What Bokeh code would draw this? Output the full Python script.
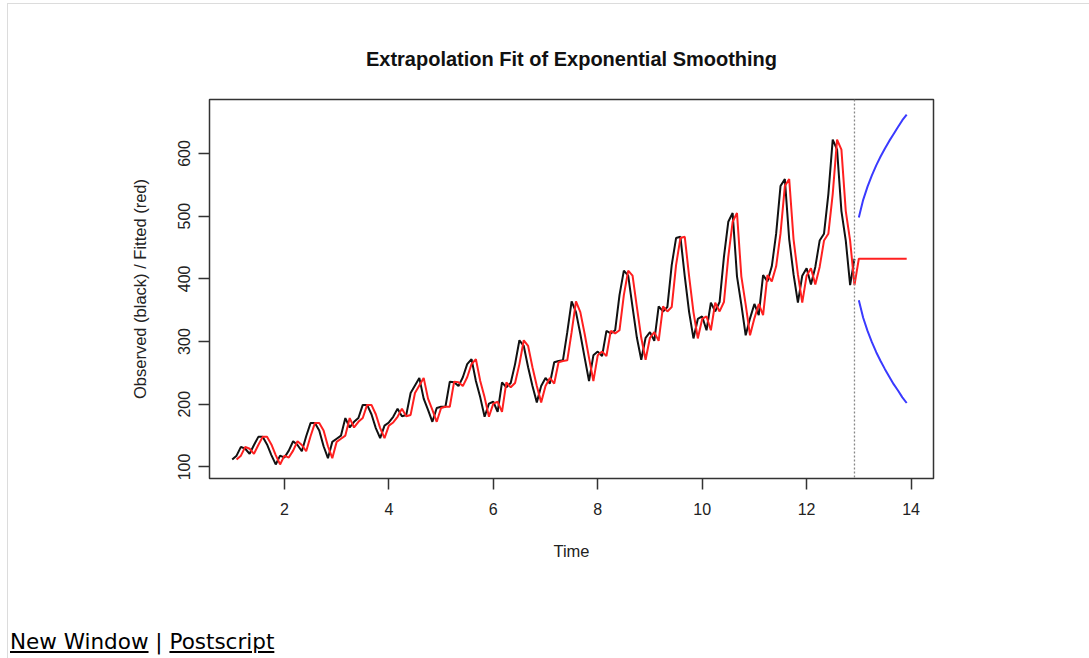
from bokeh.plotting import figure
from bokeh.models import Range1d, FixedTicker, Span, Div
from bokeh.layouts import column
from bokeh.embed import file_html
from bokeh.resources import INLINE

# ---- data (AirPassengers-like series) ----
start_time = 1
frequency = 12

observed = [
    112, 118, 132, 129, 121, 135, 148, 148, 136, 119, 104, 118,
    115, 126, 141, 135, 125, 149, 170, 170, 158, 133, 114, 140,
    145, 150, 178, 163, 172, 178, 199, 199, 184, 162, 146, 166,
    171, 180, 193, 181, 183, 218, 230, 242, 209, 191, 172, 194,
    196, 196, 236, 235, 229, 243, 264, 272, 237, 211, 180, 201,
    204, 188, 235, 227, 234, 264, 302, 293, 259, 229, 203, 229,
    242, 233, 267, 269, 270, 315, 364, 347, 312, 274, 237, 278,
    284, 277, 317, 313, 318, 374, 413, 405, 355, 306, 271, 306,
    315, 301, 356, 348, 355, 422, 465, 467, 404, 347, 305, 336,
    340, 318, 362, 348, 363, 435, 491, 505, 404, 359, 310, 337,
    360, 342, 406, 396, 420, 472, 548, 559, 463, 407, 362, 405,
    417, 391, 419, 461, 472, 535, 622, 606, 508, 461, 390, 432,
]

# fitted values (start one period after the observed series)
fitted = [
    112, 118, 132, 129, 121, 135, 148, 148, 136, 119, 104,
    118, 115, 126, 141, 135, 125, 149, 170, 170, 158, 133, 114,
    140, 145, 150, 178, 163, 172, 178, 199, 199, 184, 162, 146,
    166, 171, 180, 193, 181, 183, 218, 230, 242, 209, 191, 172,
    194, 196, 196, 236, 235, 229, 243, 264, 272, 237, 211, 180,
    201, 204, 188, 235, 227, 234, 264, 302, 293, 259, 229, 203,
    229, 242, 233, 267, 269, 270, 315, 364, 347, 312, 274, 237,
    278, 284, 277, 317, 313, 318, 374, 413, 405, 355, 306, 271,
    306, 315, 301, 356, 348, 355, 422, 465, 467, 404, 347, 305,
    336, 340, 318, 362, 348, 363, 435, 491, 505, 404, 359, 310,
    337, 360, 342, 406, 396, 420, 472, 548, 559, 463, 407, 362,
    405, 417, 391, 419, 461, 472, 535, 622, 606, 508, 461, 390,
]

forecast = [432, 432, 432, 432, 432, 432, 432, 432, 432, 432, 432, 432]
upper = [498, 526, 547, 565, 581, 595, 608, 620, 631, 642, 653, 662]
lower = [366, 338, 317, 299, 283, 269, 256, 244, 232, 222, 211, 202]

x_ticks = [2, 4, 6, 8, 10, 12, 14]
y_ticks = [100, 200, 300, 400, 500, 600]

# ---- time axes ----
t_obs = [start_time + i / frequency for i in range(len(observed))]
t_fit = [start_time + (i + 1) / frequency for i in range(len(fitted))]
t_fc = [t_obs[-1] + (i + 1) / frequency for i in range(len(forecast))]

FONT = "Liberation Sans"

p = figure(
    width=1078, height=624,
    output_backend="svg", toolbar_location=None,
    x_range=Range1d(0.565, 14.43), y_range=Range1d(81.6, 686),
    min_border_left=201, min_border_right=153,
    min_border_top=95, min_border_bottom=150,
    title="Extrapolation Fit of Exponential Smoothing",
    x_axis_label="Time", y_axis_label="Observed (black) / Fitted (red)",
)
p.background_fill_color = "white"
p.border_fill_color = "white"
p.outline_line_color = "#333333"
p.outline_line_width = 1.5
p.xgrid.visible = False
p.ygrid.visible = False

p.title.align = "center"
p.title.text_font = FONT
p.title.text_font_style = "bold"
p.title.text_font_size = "20px"
p.title.text_color = "#111111"
p.title.standoff = 59

for ax in (p.xaxis[0], p.yaxis[0]):
    ax.axis_line_color = None
    ax.major_tick_line_color = "#333333"
    ax.major_tick_line_width = 1.5
    ax.major_tick_in = 0
    ax.major_tick_out = 11
    ax.minor_tick_line_color = None
    ax.major_label_text_font = FONT
    ax.major_label_text_font_size = "16px"
    ax.major_label_text_color = "#222222"
    ax.axis_label_text_font = FONT
    ax.axis_label_text_font_size = "16.5px"
    ax.axis_label_text_font_style = "normal"
    ax.axis_label_text_color = "#222222"

p.xaxis[0].ticker = FixedTicker(ticks=x_ticks)
p.yaxis[0].ticker = FixedTicker(ticks=y_ticks)
p.xaxis[0].major_label_standoff = 13
p.xaxis[0].axis_label_standoff = 24
p.yaxis[0].major_label_orientation = "vertical"
p.yaxis[0].major_label_standoff = 8
p.yaxis[0].axis_label_standoff = 27

p.line(t_obs, observed, line_color="#111111", line_width=2)
p.line(t_fit + t_fc, fitted + forecast, line_color="#ff2020", line_width=2)
p.line(t_fc, upper, line_color="#3a3aff", line_width=2)
p.line(t_fc, lower, line_color="#3a3aff", line_width=2)

p.add_layout(Span(location=t_obs[-1], dimension="height", line_color="#888888",
                  line_dash="2 2", line_width=1.3))

links = Div(
    text='<span style="position:relative;left:2px">'
         '<a href="#" style="color:#000;text-decoration:underline">New Window</a> | '
         '<a href="#" style="color:#000;text-decoration:underline">Postscript</a></span>',
    width=1078, height=26,
    styles={"font-family": "DejaVu Sans", "font-size": "21.5px", "color": "#000",
            "padding-left": "0px", "margin-left": "0px", "line-height": "18px"},
)

layout = column(p, links, styles={"border": "1px solid #dcdcdc", "background": "white",
                                  "margin-left": "7px", "margin-top": "3px"})

open("out.html", "w").write(file_html(layout, INLINE))
